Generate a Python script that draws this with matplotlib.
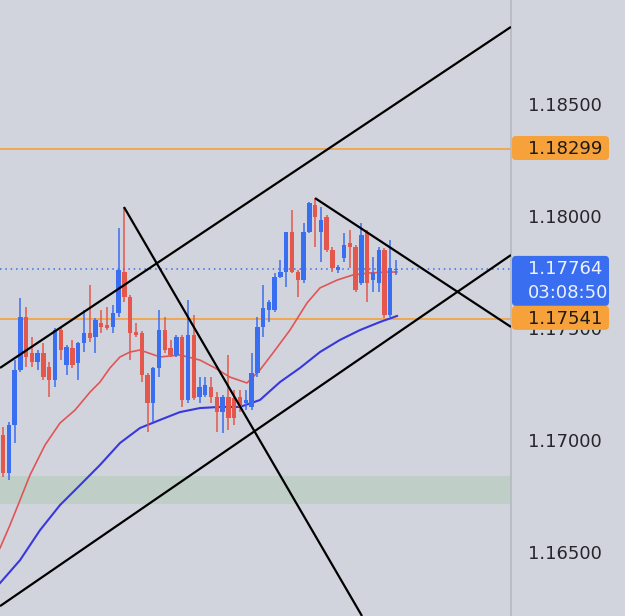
"""Candlestick chart with channel lines, moving averages and price tags."""

from __future__ import annotations

import matplotlib

matplotlib.use("Agg")

import matplotlib.pyplot as plt
from matplotlib.patches import FancyBboxPatch


# candle data, one entry per bar (oldest first)
OPENS = [
    1.17022, 1.16853, 1.17067, 1.17313, 1.17549, 1.17389, 1.17348, 1.17389, 1.17326, 1.17268,
    1.17491, 1.17335, 1.17411, 1.17344, 1.17433, 1.17478, 1.17460, 1.17522, 1.17513, 1.17505,
    1.17567, 1.17750, 1.17638, 1.17482, 1.17478, 1.17290, 1.17165, 1.17322, 1.17491, 1.17411,
    1.17380, 1.17460, 1.17179, 1.17469, 1.17192, 1.17201, 1.17237, 1.17192, 1.17125, 1.17192,
    1.17188, 1.17192, 1.17165, 1.17148, 1.17299, 1.17505, 1.17580, 1.17580, 1.17728, 1.17750,
    1.17929, 1.17750, 1.17714, 1.17929, 1.18049, 1.17929, 1.17996, 1.17848, 1.17759, 1.17813,
    1.17880, 1.17862, 1.17701, 1.17929, 1.17714, 1.17701, 1.17848, 1.17558, 1.17759,
]
HIGHS = [
    1.17058, 1.17081, 1.17357, 1.17634, 1.17594, 1.17460, 1.17402, 1.17433, 1.17348, 1.17500,
    1.17505, 1.17424, 1.17447, 1.17438, 1.17580, 1.17692, 1.17545, 1.17580, 1.17594, 1.17603,
    1.17946, 1.18040, 1.17647, 1.17522, 1.17487, 1.17299, 1.17326, 1.17580, 1.17549, 1.17447,
    1.17469, 1.17469, 1.17625, 1.17558, 1.17281, 1.17281, 1.17281, 1.17214, 1.17201, 1.17380,
    1.17223, 1.17223, 1.17223, 1.17389, 1.17549, 1.17692, 1.17625, 1.17746, 1.17804, 1.17929,
    1.18027, 1.17759, 1.17969, 1.18063, 1.18080, 1.18040, 1.18005, 1.17862, 1.17781, 1.17924,
    1.17938, 1.17871, 1.17969, 1.17938, 1.17817, 1.17862, 1.17857, 1.17893, 1.17804,
]
LOWS = [
    1.16835, 1.16822, 1.16987, 1.17304, 1.17326, 1.17326, 1.17313, 1.17268, 1.17192, 1.17237,
    1.17357, 1.17290, 1.17322, 1.17268, 1.17393, 1.17438, 1.17389, 1.17478, 1.17491, 1.17478,
    1.17549, 1.17616, 1.17357, 1.17460, 1.17259, 1.17036, 1.17081, 1.17281, 1.17389, 1.17371,
    1.17371, 1.17148, 1.17165, 1.17179, 1.17165, 1.17192, 1.17165, 1.17036, 1.17031, 1.17045,
    1.17067, 1.17125, 1.17134, 1.17134, 1.17281, 1.17460, 1.17527, 1.17572, 1.17723, 1.17683,
    1.17746, 1.17638, 1.17701, 1.17924, 1.17862, 1.17795, 1.17839, 1.17750, 1.17746, 1.17795,
    1.17768, 1.17661, 1.17692, 1.17616, 1.17661, 1.17661, 1.17545, 1.17549, 1.17737,
]
CLOSES = [
    1.16853, 1.17067, 1.17313, 1.17549, 1.17371, 1.17348, 1.17389, 1.17281, 1.17268, 1.17491,
    1.17402, 1.17415, 1.17335, 1.17433, 1.17478, 1.17455, 1.17536, 1.17505, 1.17500, 1.17567,
    1.17759, 1.17638, 1.17478, 1.17469, 1.17290, 1.17165, 1.17322, 1.17491, 1.17402, 1.17380,
    1.17460, 1.17179, 1.17469, 1.17188, 1.17237, 1.17246, 1.17192, 1.17125, 1.17192, 1.17098,
    1.17098, 1.17148, 1.17179, 1.17299, 1.17505, 1.17589, 1.17616, 1.17728, 1.17750, 1.17929,
    1.17750, 1.17714, 1.17929, 1.18058, 1.17996, 1.17982, 1.17848, 1.17768, 1.17772, 1.17871,
    1.17862, 1.17670, 1.17915, 1.17701, 1.17746, 1.17848, 1.17558, 1.17768, 1.17764,
]

# moving averages (bar index, price)
FAST_MA_X = [-0.52, 1.21, 2.94, 4.67, 7.27, 9.86, 12.46, 15.05, 16.78, 18.51, 20.24, 21.97,
             23.70, 27.16, 30.62, 34.08, 36.68, 39.27, 42.21, 44.46, 46.71, 49.65, 52.60,
             54.84, 57.79, 60.55, 63.49, 66.44, 68.17]
FAST_MA_Y = [1.16518, 1.16621, 1.16732, 1.16844, 1.16978, 1.17076, 1.17134, 1.17214, 1.17259,
             1.17322, 1.17371, 1.17393, 1.17402, 1.17371, 1.17380, 1.17357, 1.17322, 1.17281,
             1.17255, 1.17313, 1.17389, 1.17491, 1.17612, 1.17679, 1.17714, 1.17737, 1.17746,
             1.17750, 1.17750]
SLOW_MA_X = [-0.52, 2.94, 6.40, 9.86, 13.32, 16.78, 20.24, 23.70, 27.16, 30.62, 34.08, 37.54,
             41.00, 44.46, 47.92, 51.38, 54.84, 58.30, 61.76, 65.22, 68.17]
SLOW_MA_Y = [1.16362, 1.16464, 1.16598, 1.16710, 1.16799, 1.16889, 1.16987, 1.17054, 1.17090,
             1.17125, 1.17143, 1.17148, 1.17148, 1.17179, 1.17259, 1.17322, 1.17393, 1.17447,
             1.17491, 1.17527, 1.17554]

# hand-drawn trend lines: (x0, y0, x1, y1) in bar index / price
TREND_LINES = [
    (-0.52, 1.17322, 87.89, 1.18844),
    (-0.52, 1.16259, 87.89, 1.17826),
    (20.93, 1.18040, 62.11, 1.16215),
    (53.98, 1.18080, 87.89, 1.17505),
]

LEVELS = [1.18299, 1.17541]
LAST_PRICE = 1.17764
COUNTDOWN = "03:08:50"
ZONE = (1.16714, 1.16839)
PRICE_TICKS = [1.165, 1.170, 1.175, 1.180, 1.185]

Y_RANGE = (1.16215, 1.18964)
X_RANGE = (-0.52, 87.89)

BG = "#d1d4dc"
UP = "#3a6ef0"
DOWN = "#e4574d"
ORANGE = "#f6a13a"
TEXT = "#26272b"

FIG_W, FIG_H = 625, 616
PLOT_W = 511


def draw_candles(ax: plt.Axes) -> None:
    """Bodies as bars, wicks as vertical lines."""
    for i, (o, h, l, c) in enumerate(zip(OPENS, HIGHS, LOWS, CLOSES)):
        color = UP if c >= o else DOWN
        ax.vlines(i, l, h, color=color, linewidth=1.1, zorder=4)
        body = max(abs(c - o), 0.00003)
        ax.bar(i, body, bottom=min(o, c), width=0.76, color=color, linewidth=0, zorder=5)


def draw_tag(tag_ax, ax, price, lines, face, text_color, height_px):
    """Price tag on the right scale; y taken from the main axes transform."""
    y = ax.transData.transform((0, price))[1]
    top = y + 13
    box = FancyBboxPatch(
        (PLOT_W + 1, top - height_px), 97, height_px,
        boxstyle="round,pad=0,rounding_size=4",
        facecolor=face, edgecolor="none", zorder=10,
    )
    tag_ax.add_patch(box)
    for k, line in enumerate(lines):
        tag_ax.text(528, y - k * 24, line, color=text_color, fontsize=13,
                    ha="left", va="center", zorder=11)


def main() -> None:
    plt.rcParams["font.family"] = ["DejaVu Sans"]

    fig = plt.figure(figsize=(FIG_W / 100, FIG_H / 100), dpi=100)
    fig.patch.set_facecolor(BG)

    ax = fig.add_axes([0, 0, PLOT_W / FIG_W, 1])
    ax.set_facecolor(BG)
    ax.set_xlim(*X_RANGE)
    ax.set_ylim(*Y_RANGE)

    ax.axhspan(ZONE[0], ZONE[1], color="#b9cdbf", alpha=0.75, linewidth=0, zorder=1)
    for level in LEVELS:
        ax.axhline(level, color=ORANGE, linewidth=1.2, zorder=2)
    ax.axhline(LAST_PRICE, color=UP, linewidth=1.1, linestyle=(0, (1, 2.5)), zorder=2)

    ax.plot(FAST_MA_X, FAST_MA_Y, color="#e05656", linewidth=1.2, zorder=3,
            solid_joinstyle="round")
    ax.plot(SLOW_MA_X, SLOW_MA_Y, color="#3838dc", linewidth=1.5, zorder=3,
            solid_joinstyle="round")

    draw_candles(ax)

    for x0, y0, x1, y1 in TREND_LINES:
        ax.plot([x0, x1], [y0, y1], color="black", linewidth=1.6, zorder=6,
                solid_capstyle="butt")

    # price scale on the right
    ax.set_xticks([])
    ax.yaxis.tick_right()
    ax.set_yticks(PRICE_TICKS)
    ax.set_yticklabels([f"{t:.5f}" for t in PRICE_TICKS])
    ax.tick_params(axis="y", length=0, pad=12, labelsize=13, labelcolor=TEXT)
    for side in ("top", "bottom", "left"):
        ax.spines[side].set_visible(False)
    ax.spines["right"].set_color("#b6b9c2")
    ax.spines["right"].set_linewidth(1.2)

    tag_ax = fig.add_axes([0, 0, 1, 1])
    tag_ax.set_xlim(0, FIG_W)
    tag_ax.set_ylim(0, FIG_H)
    tag_ax.axis("off")
    tag_ax.patch.set_alpha(0)

    fig.canvas.draw()
    draw_tag(tag_ax, ax, LEVELS[0], [f"{LEVELS[0]:.5f}"], ORANGE, "#1d1a17", 24)
    draw_tag(tag_ax, ax, LAST_PRICE, [f"{LAST_PRICE:.5f}", COUNTDOWN], "#3a6ef0", "#eef1ff", 50)
    draw_tag(tag_ax, ax, LEVELS[1], [f"{LEVELS[1]:.5f}"], ORANGE, "#1d1a17", 24)

    fig.savefig("out.png", dpi=100, facecolor=BG)
    plt.close(fig)


if __name__ == "__main__":
    main()
